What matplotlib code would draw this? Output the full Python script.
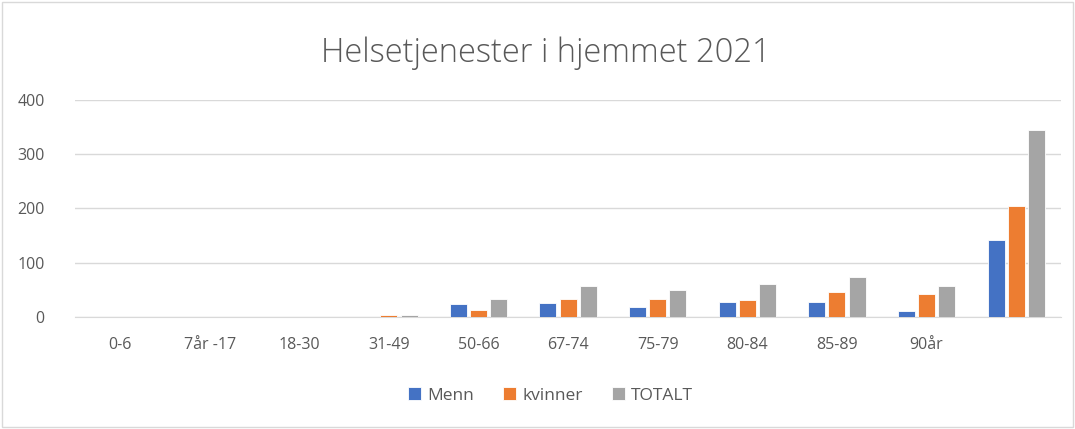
import numpy as np
import matplotlib
matplotlib.use("Agg")
import matplotlib.pyplot as plt
from matplotlib.patches import Rectangle

# ── Data ──────────────────────────────────────────────────────────────────────
CATEGORIES = ["0-6", "7år -17", "18-30", "31-49", "50-66", "67-74",
              "75-79", "80-84", "85-89", "90år", ""]
MENN    = [0, 0, 0, 0, 24, 26, 20, 29, 29, 12, 142]
KVINNER = [0, 0, 0, 5, 13, 33, 33, 32, 46, 43, 204]
TOTALT  = [0, 0, 0, 4, 34, 57, 50, 61, 75, 57, 344]

SERIES = [("Menn", MENN, "#4472C4"),
          ("kvinner", KVINNER, "#ED7D31"),
          ("TOTALT", TOTALT, "#A5A5A5")]

TEXT = "#595959"
GRID = "#D9D9D9"

plt.rcParams.update({"font.family": ["Open Sans", "DejaVu Sans"]})

fig = plt.figure(figsize=(10.75, 4.29), dpi=100)
ax = fig.add_axes([0.07, 0.26, 0.917, 0.508])

x = np.arange(len(CATEGORIES))
w = 0.19
for i, (name, vals, col) in enumerate(SERIES):
    ax.bar(x + (i - 1) * 0.225, vals, width=w, color=col, label=name,
           edgecolor="white", linewidth=0.6, zorder=3)

ax.set_xlim(-0.5, len(CATEGORIES) - 0.5)
ax.set_ylim(0, 400)
ax.set_yticks([0, 100, 200, 300, 400])
ax.yaxis.grid(True, color=GRID, linewidth=1.0, zorder=0)
ax.set_xticks(x)
ax.set_xticklabels(CATEGORIES)
ax.tick_params(axis="both", length=0, colors=TEXT, labelsize=11.5)
ax.tick_params(axis="x", pad=14)
ax.tick_params(axis="y", pad=22)
for s in ["top", "right", "left"]:
    ax.spines[s].set_visible(False)
ax.spines["bottom"].set_color(GRID)

fig.suptitle("Helsetjenester i hjemmet 2021", x=0.508, y=0.915,
             fontsize=23.5, color=TEXT, fontweight="light")

leg = fig.legend(loc="center", bbox_to_anchor=(0.512, 0.078), ncol=3,
                 frameon=False, fontsize=12.5, handlelength=0.75,
                 handleheight=0.75, handletextpad=0.35, columnspacing=1.7)
for t in leg.get_texts():
    t.set_color(TEXT)

fig.patches.append(Rectangle((0.002, 0.005), 0.996, 0.99,
                             transform=fig.transFigure, fill=False,
                             edgecolor="#D9D9D9", linewidth=1.0))

fig.savefig("out.png", dpi=100, facecolor="white")
